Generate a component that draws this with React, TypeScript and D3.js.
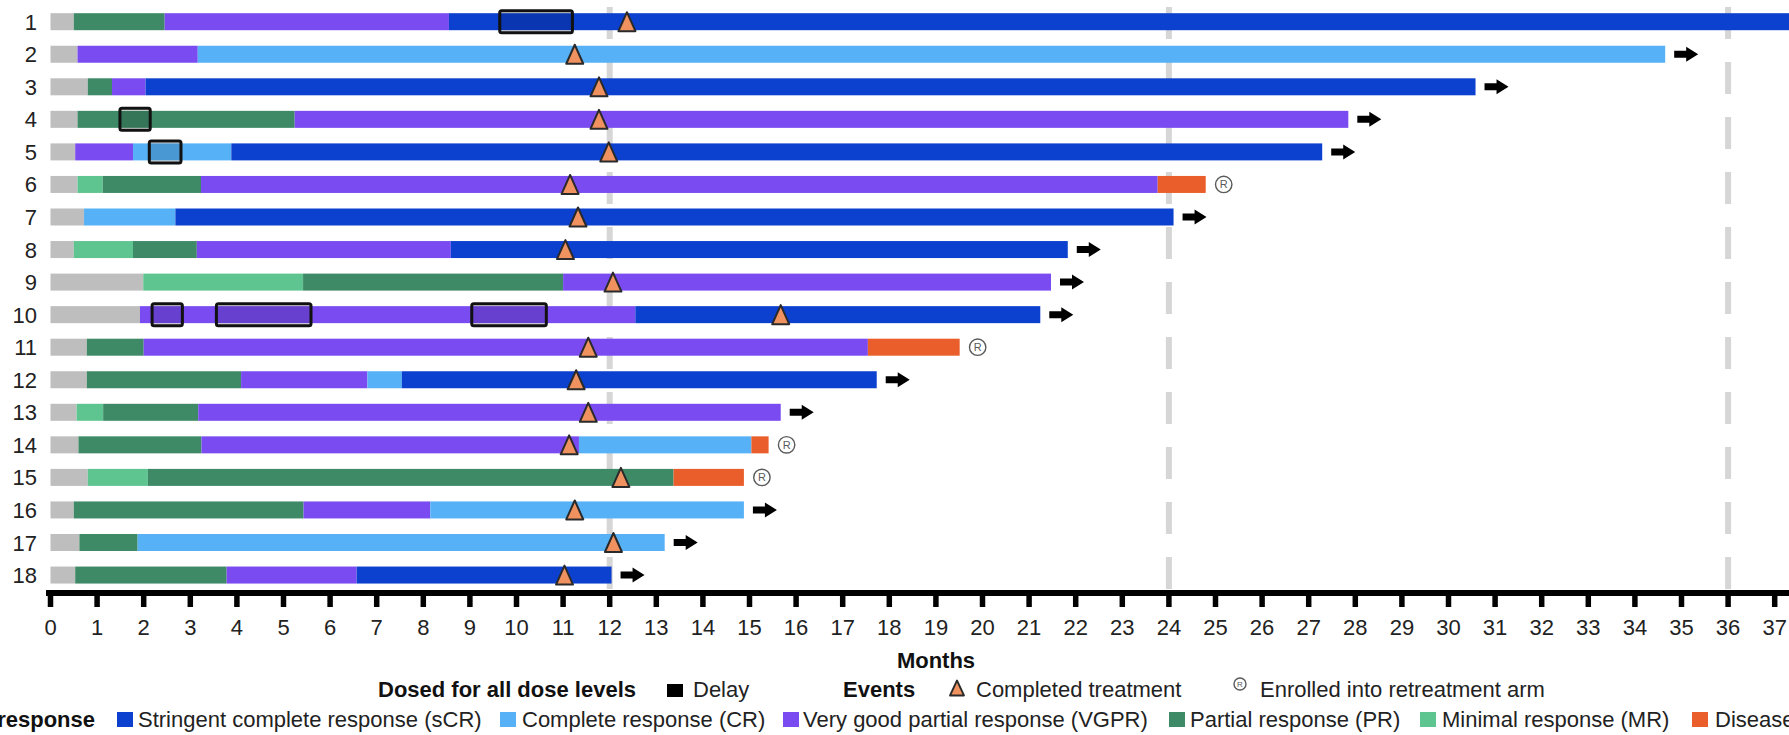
import React from 'react';
import * as d3 from 'd3';

// ---------- data ----------
const patientIds = ['1','2','3','4','5','6','7','8','9','10','11','12','13','14','15','16','17','18'];

// response status for each consecutive segment (starting at month 0)
const segmentStatus: string[][] = [
  ['Screen','PR','VGPR','sCR'],
  ['Screen','VGPR','CR'],
  ['Screen','PR','VGPR','sCR'],
  ['Screen','PR','VGPR'],
  ['Screen','VGPR','CR','sCR'],
  ['Screen','MR','PR','VGPR','PD'],
  ['Screen','CR','sCR'],
  ['Screen','MR','PR','VGPR','sCR'],
  ['Screen','MR','PR','VGPR'],
  ['Screen','VGPR','sCR'],
  ['Screen','PR','VGPR','PD'],
  ['Screen','PR','VGPR','CR','sCR'],
  ['Screen','MR','PR','VGPR'],
  ['Screen','PR','VGPR','CR','PD'],
  ['Screen','MR','PR','PD'],
  ['Screen','PR','VGPR','CR'],
  ['Screen','PR','CR'],
  ['Screen','PR','VGPR','sCR'],
];
// month at which each segment ends
const segmentEnds: number[][] = [
  [0.5, 2.45, 8.55, 38.6],
  [0.58, 3.16, 34.65],
  [0.8, 1.32, 2.04, 30.58],
  [0.58, 5.24, 27.85],
  [0.53, 1.77, 3.88, 27.29],
  [0.58, 1.12, 3.23, 23.76, 24.79],
  [0.72, 2.68, 24.1],
  [0.5, 1.77, 3.14, 8.59, 21.83],
  [1.99, 5.42, 11.0, 21.47],
  [1.92, 12.55, 21.24],
  [0.78, 2.0, 17.54, 19.51],
  [0.78, 4.09, 6.8, 7.54, 17.73],
  [0.56, 1.13, 3.17, 15.67],
  [0.6, 3.24, 11.34, 15.04, 15.41],
  [0.8, 2.09, 13.37, 14.88],
  [0.5, 5.43, 8.15, 14.88],
  [0.62, 1.87, 13.18],
  [0.53, 3.78, 6.57, 12.04],
];
const delayStarts: number[][] = [
  [9.64], [], [], [1.49], [2.12], [], [], [], [], [2.18, 3.56, 9.04], [], [], [], [], [], [], [], [],
];
const delayEnds: number[][] = [
  [11.2], [], [], [2.14], [2.8], [], [], [], [], [2.83, 5.59, 10.64], [], [], [], [], [], [], [], [],
];
const completedTreatment: number[] = [
  12.37, 11.25, 11.77, 11.77, 11.98, 11.15, 11.32, 11.05, 12.07, 15.67, 11.54, 11.28, 11.54, 11.13, 12.24, 11.25, 12.08, 11.03,
];
// 'ongoing' = arrow, 'retreat' = enrolled into retreatment arm, '' = none visible
const rowOutcome: string[] = [
  '', 'ongoing', 'ongoing', 'ongoing', 'ongoing', 'retreat', 'ongoing', 'ongoing', 'ongoing', 'ongoing',
  'retreat', 'ongoing', 'ongoing', 'retreat', 'retreat', 'ongoing', 'ongoing', 'ongoing',
];
const monthTicks = [0,1,2,3,4,5,6,7,8,9,10,11,12,13,14,15,16,17,18,19,20,21,22,23,24,25,26,27,28,29,30,31,32,33,34,35,36,37];
const referenceMonths = [12, 24, 36];

const legendKeys = ['sCR', 'CR', 'VGPR', 'PR', 'MR', 'PD'];
const legendLabels = [
  'Stringent complete response (sCR)',
  'Complete response (CR)',
  'Very good partial response (VGPR)',
  'Partial response (PR)',
  'Minimal response (MR)',
  'Disease progression (PD)',
];

const statusColors: Record<string, string> = {
  Screen: '#bebebe',
  sCR: '#0c41cf',
  CR: '#56b1f6',
  VGPR: '#7a4bf1',
  PR: '#3e8a67',
  MR: '#5fc590',
  PD: '#ea5e2b',
};

// ---------- layout ----------
const W = 1789;
const H = 735;
const FONT = '"Liberation Sans", Arial, Helvetica, sans-serif';
const FS = 22;
const BAR_H = 17;
const AXIS_Y = 593;

const x = d3.scaleLinear().domain([0, 37]).range([50.5, 50.5 + 37 * 46.6]);
const y = d3.scalePoint<string>().domain(patientIds).range([21.7, 21.7 + 17 * 32.55]);

const trianglePath = (cx: number, cy: number, w: number, h: number) =>
  `M${cx},${cy - h / 2}L${cx + w / 2},${cy + h / 2}L${cx - w / 2},${cy + h / 2}Z`;

const arrowPath = (x0: number, cy: number) =>
  `M${x0},${cy - 3.5}H${x0 + 12}V${cy - 7.5}L${x0 + 24},${cy}L${x0 + 12},${cy + 7.5}V${cy + 3.5}H${x0}Z`;

function RMark({ cx, cy, r, fs }: { cx: number; cy: number; r: number; fs: number }) {
  return (
    <g>
      <circle cx={cx} cy={cy} r={r} fill="none" stroke="#5a5a5a" strokeWidth={1.4} />
      <text x={cx} y={cy + fs * 0.36} textAnchor="middle" fontSize={fs} fill="#5a5a5a" fontFamily={FONT}>R</text>
    </g>
  );
}

export default function App() {
  const legendSquares = [117, 500, 783, 1169, 1420, 1692];
  const legendTextX = [138, 522, 803, 1190, 1442, 1715];

  return (
    <svg
      width={W}
      height={H}
      viewBox={`0 0 ${W} ${H}`}
      style={{ position: 'absolute', left: 0, top: 0, display: 'block', background: '#fff' }}
    >
      <rect x={0} y={0} width={W} height={H} fill="#fff" />

      {/* reference dashed lines */}
      {referenceMonths.map((m) => (
        <line
          key={m}
          x1={x(m)}
          x2={x(m)}
          y1={7}
          y2={AXIS_Y}
          stroke="#d6d6d6"
          strokeWidth={6}
          strokeDasharray="32 23"
        />
      ))}

      {/* bars */}
      {patientIds.map((id, i) => {
        const cy = y(id)!;
        const ends = segmentEnds[i];
        const last = ends[ends.length - 1];
        return (
          <g key={id}>
            <text
              x={37}
              y={cy + 8}
              textAnchor="end"
              fontSize={FS}
              fontFamily={FONT}
              fill="#222"
            >
              {id}
            </text>
            {segmentStatus[i].map((s, j) => {
              const start = j === 0 ? 0 : ends[j - 1];
              return (
                <rect
                  key={j}
                  x={x(start)}
                  y={cy - BAR_H / 2}
                  width={Math.max(0, x(ends[j]) - x(start))}
                  height={BAR_H}
                  fill={statusColors[s]}
                />
              );
            })}
            {delayStarts[i].map((d0, k) => (
              <rect
                key={'d' + k}
                x={x(d0)}
                y={cy - 11}
                width={x(delayEnds[i][k]) - x(d0)}
                height={22}
                rx={2}
                fill="rgba(0,0,0,0.14)"
                stroke="#111"
                strokeWidth={3}
              />
            ))}
            <path
              d={trianglePath(x(completedTreatment[i]), cy, 17, 19)}
              fill="#ef9260"
              stroke="#2a2a2a"
              strokeWidth={2}
              strokeLinejoin="round"
            />
            {rowOutcome[i] === 'ongoing' && <path d={arrowPath(x(last) + 9, cy)} fill="#000" />}
            {rowOutcome[i] === 'retreat' && <RMark cx={x(last) + 18} cy={cy} r={8.2} fs={11} />}
          </g>
        );
      })}

      {/* x axis */}
      <line x1={46} x2={W} y1={AXIS_Y} y2={AXIS_Y} stroke="#000" strokeWidth={6} />
      {monthTicks.map((t) => (
        <g key={t}>
          <line x1={x(t)} x2={x(t)} y1={AXIS_Y} y2={AXIS_Y + 14} stroke="#000" strokeWidth={5.5} />
          <text x={x(t)} y={635} textAnchor="middle" fontSize={FS} fontFamily={FONT} fill="#222">
            {t}
          </text>
        </g>
      ))}
      <text x={936} y={668} textAnchor="middle" fontSize={FS} fontWeight="bold" fontFamily={FONT} fill="#111">
        Months
      </text>

      {/* legend line 2 */}
      <text x={378} y={697} fontSize={FS} fontWeight="bold" fontFamily={FONT} fill="#111">Dosed for all dose levels</text>
      <rect x={667} y={684} width={16} height={13} fill="#000" />
      <text x={693} y={697} fontSize={FS} fontFamily={FONT} fill="#222">Delay</text>
      <text x={843} y={697} fontSize={FS} fontWeight="bold" fontFamily={FONT} fill="#111">Events</text>
      <path d={trianglePath(957, 688, 14, 15)} fill="#ef9260" stroke="#2a2a2a" strokeWidth={1.8} strokeLinejoin="round" />
      <text x={976} y={697} fontSize={FS} fontFamily={FONT} fill="#222">Completed treatment</text>
      <RMark cx={1240} cy={684} r={6} fs={8} />
      <text x={1260} y={697} fontSize={FS} fontFamily={FONT} fill="#222">Enrolled into retreatment arm</text>

      {/* legend line 3 */}
      <text x={95} y={727} textAnchor="end" fontSize={FS} fontWeight="bold" fontFamily={FONT} fill="#111">Best response</text>
      {legendKeys.map((k, i) => (
        <g key={k}>
          <rect x={legendSquares[i]} y={712} width={16} height={15} fill={statusColors[k]} />
          <text x={legendTextX[i]} y={727} fontSize={FS} fontFamily={FONT} fill="#222">{legendLabels[i]}</text>
        </g>
      ))}
    </svg>
  );
}
